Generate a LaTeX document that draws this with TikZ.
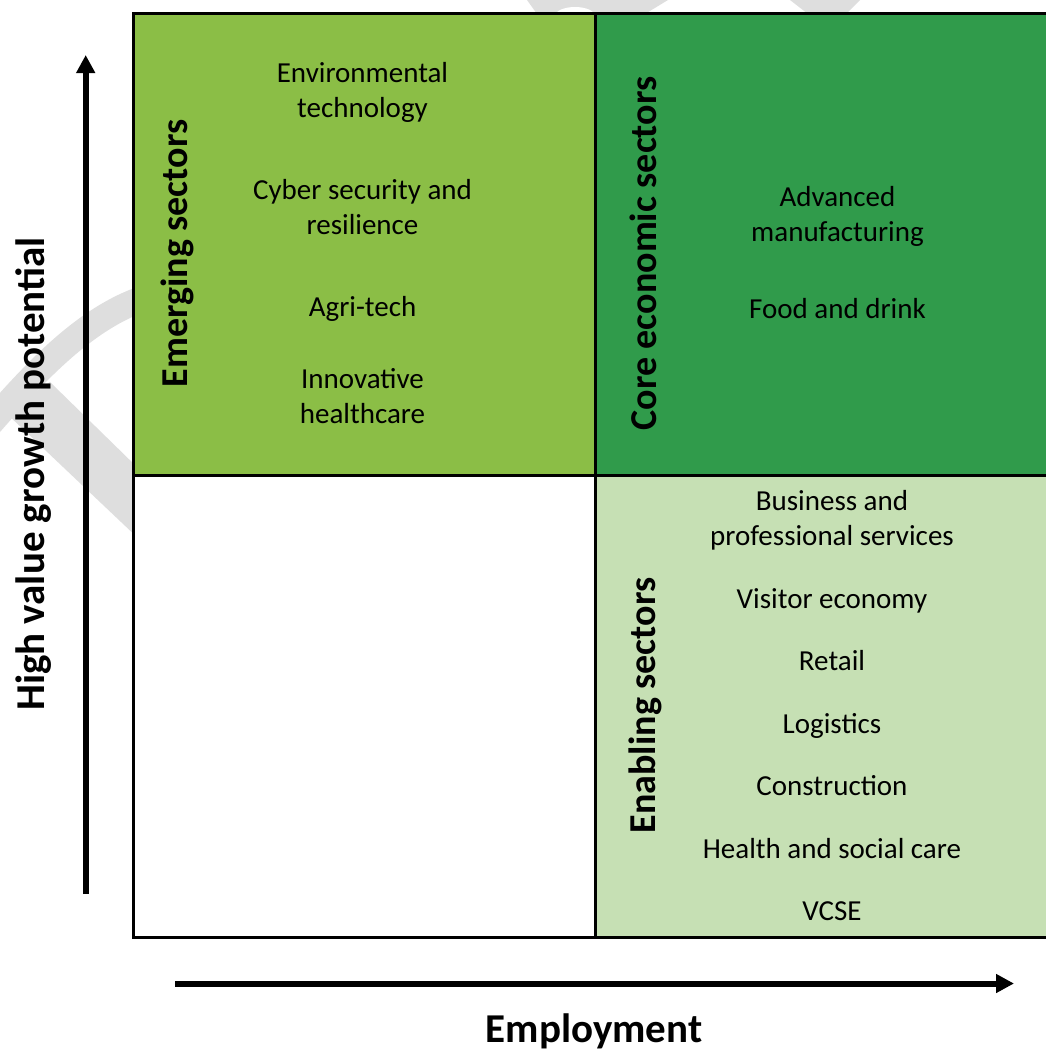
\documentclass[tikz,border=0pt]{standalone}
\usepackage{fontspec}
\setmainfont{Carlito}
\usetikzlibrary{arrows.meta}

\definecolor{emerging}{RGB}{139,190,70}
\definecolor{coresec}{RGB}{48,155,75}
\definecolor{enabling}{RGB}{198,224,180}
\definecolor{wmark}{RGB}{222,222,222}

\tikzset{
  item/.style={font=\fontsize{29}{35}\selectfont, anchor=base, inner sep=0pt},
  head/.style={font=\bfseries\fontsize{38}{45}\selectfont, rotate=90, anchor=base, inner sep=0pt},
  axislabel/.style={font=\bfseries\fontsize{41}{50}\selectfont, anchor=base, inner sep=0pt},
  axisarrow/.style={line width=6pt, -{Triangle[length=18pt,width=18pt]}},
  gridline/.style={line width=3pt, line cap=rect}
}

\begin{document}
\begin{tikzpicture}[x=1pt, y=-1pt]
\useasboundingbox (0,0) rectangle (1046,1053);
\clip (0,0) rectangle (1046,1053);

% light background watermark strokes
\draw[wmark, line width=26pt] (-12,426) .. controls (35,372) and (85,318) .. (145,298);
\fill[wmark] (50,382) -- (140,470) -- (140,540) -- (5,412) -- cycle;
\fill[wmark] (527,0) -- (668,0) -- (645,14) -- (537,14) -- cycle;
\fill[white] (575,16) ellipse [x radius=20, y radius=9];
\fill[wmark] (790,0) -- (860,0) -- (846,14) -- (808,14) -- cycle;

% quadrant fills
\fill[emerging] (133,13) rectangle (595,475);
\fill[coresec]  (595,13) rectangle (1070,475);
\fill[white]    (133,475) rectangle (595,937);
\fill[enabling] (595,475) rectangle (1070,937);

% quadrant frame
\draw[gridline] (133,13) rectangle (1070,937);
\draw[gridline] (595,13) -- (595,937);
\draw[gridline] (133,475) -- (1070,475);

% axes
\coordinate (ybot) at (85.7,894);
\coordinate (ytop) at (85.7,55);
\coordinate (xleft) at (175,983.5);
\coordinate (xright) at (1014,983.5);
\draw[axisarrow] (ybot) -- (ytop);
\draw[axisarrow] (xleft) -- (xright);

\node[axislabel, rotate=90] (ylab) at (44,474) {High value growth potential};
\node[axislabel] (xlab) at (594,1042) {Employment};

% quadrant headings
\node[head] (hemerg) at (187,253.5) {Emerging sectors};
\node[head] (hcore)  at (656.5,253.5) {Core economic sectors};
\node[head] (henab)  at (655,705.5) {Enabling sectors};

% emerging sectors
\node[item] (e1a) at (362.5,82)  {Environmental};
\node[item] (e1b) at (362.5,117) {technology};
\node[item] (e2a) at (362.5,199) {Cyber security and};
\node[item] (e2b) at (362.5,234) {resilience};
\node[item] (e3)  at (362.5,316) {Agri-tech};
\node[item] (e4a) at (362.5,388) {Innovative};
\node[item] (e4b) at (362.5,423) {healthcare};

% core economic sectors
\node[item] (c1a) at (837.5,206) {Advanced};
\node[item] (c1b) at (837.5,241) {manufacturing};
\node[item] (c2)  at (837.5,318) {Food and drink};

% enabling sectors
\node[item] (n1a) at (832,510) {Business and};
\node[item] (n1b) at (832,545) {professional services};
\node[item] (n2)  at (832,608) {Visitor economy};
\node[item] (n3)  at (832,670) {Retail};
\node[item] (n4)  at (832,733) {Logistics};
\node[item] (n5)  at (832,795) {Construction};
\node[item] (n6)  at (832,858) {Health and social care};
\node[item] (n7)  at (832,920) {VCSE};
\end{tikzpicture}
\end{document}
